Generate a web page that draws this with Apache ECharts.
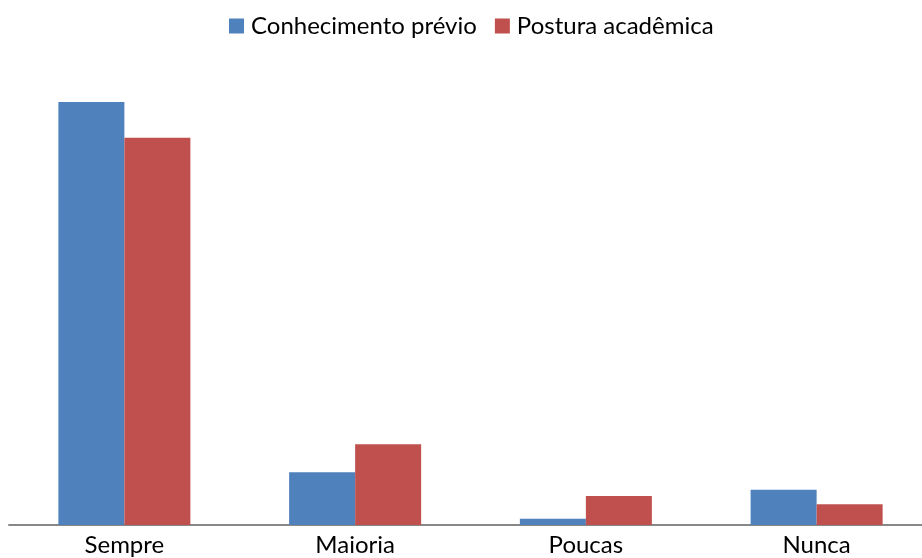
<!DOCTYPE html>
<html>
<head>
<meta charset="utf-8">
<script src="https://cdn.jsdelivr.net/npm/echarts@6/dist/echarts.min.js"></script>
<style>html,body{margin:0;padding:0;background:#fff}#c{width:922px;height:558px}</style>
</head>
<body>
<div id="c"></div>
<script>
var categories = ['Sempre', 'Maioria', 'Poucas', 'Nunca'];
var conhecimento = [81.8, 10.2, 1.2, 6.8];
var postura = [74.9, 15.6, 5.6, 4.0];
var seriesNames = ['Conhecimento prévio', 'Postura acadêmica'];

var chart = echarts.init(document.getElementById('c'));
chart.setOption({
  animation: false,
  textStyle: { fontFamily: 'Lato' },
  legend: {
    top: 9, left: 224,
    itemWidth: 15, itemHeight: 15, itemGap: 18,
    icon: 'rect',
    textStyle: { fontSize: 24, color: '#000', fontFamily: 'Lato', padding: [0, 0, 0, 2] },
    data: seriesNames
  },
  grid: { left: 9, width: 923, top: 8, bottom: 33, containLabel: false, outerBoundsMode: 'none' },
  xAxis: {
    type: 'category', data: categories,
    axisLine: { lineStyle: { color: '#888', width: 2 } },
    axisTick: { show: false },
    axisLabel: { fontSize: 24, color: '#000', margin: 8, fontFamily: 'Lato' }
  },
  yAxis: { type: 'value', min: 0, max: 100, show: false, splitLine: { show: false } },
  series: [
    { name: seriesNames[0], type: 'bar', data: conhecimento, barWidth: 66, barGap: '0%', itemStyle: { color: '#4f81bd' } },
    { name: seriesNames[1], type: 'bar', data: postura, barWidth: 66, barGap: '0%', itemStyle: { color: '#c0504d' } }
  ]
});
</script>
</body>
</html>
